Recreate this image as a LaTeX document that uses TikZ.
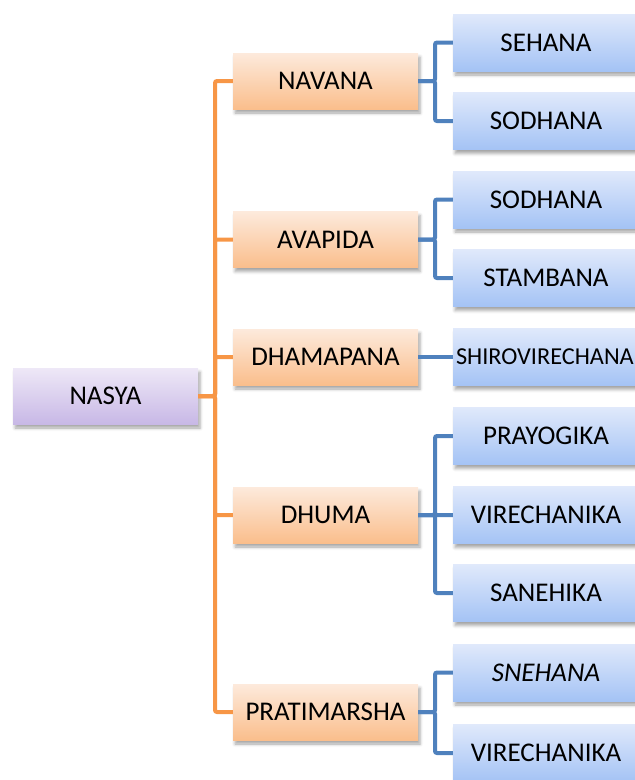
\documentclass[tikz,border=0pt]{standalone}
\usepackage{fontspec}
\setmainfont{Carlito}
\usetikzlibrary{shadows.blur}
\definecolor{otop}{RGB}{253,234,220}
\definecolor{obot}{RGB}{250,190,140}
\definecolor{btop}{RGB}{224,233,251}
\definecolor{bbot}{RGB}{164,195,245}
\definecolor{ptop}{RGB}{238,232,247}
\definecolor{pbot}{RGB}{200,184,230}
\definecolor{oline}{RGB}{247,150,70}
\definecolor{bline}{RGB}{79,129,189}
\tikzset{
  boxbase/.style={rectangle, inner sep=0pt, minimum height=56pt, text=black,
    font=\fontsize{27}{30}\selectfont,
    blur shadow={shadow xshift=2pt, shadow yshift=-4pt, shadow blur radius=3pt, shadow opacity=35}},
  rootbox/.style={boxbase, minimum width=185pt, shading=axis, top color=ptop, bottom color=pbot},
  midbox/.style={boxbase, minimum width=185pt, shading=axis, top color=otop, bottom color=obot},
  leafbox/.style={boxbase, minimum width=188pt, minimum height=57pt, shading=axis, top color=btop, bottom color=bbot},
  oconn/.style={draw=oline, line width=4pt, rounded corners=2pt},
  bconn/.style={draw=bline, line width=4pt, rounded corners=2pt},
}
\begin{document}
\begin{tikzpicture}[x=1pt,y=-1pt]
\useasboundingbox (0,0) rectangle (635,780);
% root
\node[rootbox] (nasya) at (105.5,396) {NASYA};
% middle column
\node[midbox] (navana) at (325.5,81) {NAVANA};
\node[midbox] (avapida) at (325.5,239.5) {AVAPIDA};
\node[midbox] (dhamapana) at (325.5,357) {DHAMAPANA};
\node[midbox] (dhuma) at (325.5,515) {DHUMA};
\node[midbox] (pratimarsha) at (325.5,712) {PRATIMARSHA};
% leaves
\node[leafbox] (sehana) at (547,42.5) {\hspace*{-2pt}SEHANA};
\node[leafbox] (sodhana1) at (547,121) {\hspace*{-2pt}SODHANA};
\node[leafbox] (sodhana2) at (547,199.5) {\hspace*{-2pt}SODHANA};
\node[leafbox] (stambana) at (547,278) {\hspace*{-2pt}STAMBANA};
\node[leafbox, font=\fontsize{24.3}{28}\selectfont, align=left] (shiro) at (547,357) {\makebox[188pt][l]{\hspace*{3pt}SHIROVIRECHANA}};
\node[leafbox] (prayogika) at (547,436) {\hspace*{-2pt}PRAYOGIKA};
\node[leafbox] (virech1) at (547,515) {\hspace*{-2pt}VIRECHANIKA};
\node[leafbox] (sanehika) at (547,593) {\hspace*{-2pt}SANEHIKA};
\node[leafbox] (snehana) at (547,672.5) {\hspace*{-2pt}\itshape SNEHANA};
\node[leafbox] (virech2) at (547,753) {\hspace*{-2pt}VIRECHANIKA};
% orange trunk
\coordinate (tk) at (215,396);
\foreach \c in {navana,avapida,dhamapana,dhuma,pratimarsha}
  \draw[oconn] (nasya.east) -- (tk) |- (\c.west);
% blue brackets
\coordinate (b1) at (435,81);
\coordinate (b2) at (435,239.5);
\coordinate (b4) at (435,515);
\coordinate (b5) at (435,712);
\foreach \c in {sehana,sodhana1} \draw[bconn] (navana.east) -- (b1) |- (\c.west);
\foreach \c in {sodhana2,stambana} \draw[bconn] (avapida.east) -- (b2) |- (\c.west);
\draw[bconn] (dhamapana.east) -- (shiro.west);
\foreach \c in {prayogika,virech1,sanehika} \draw[bconn] (dhuma.east) -- (b4) |- (\c.west);
\foreach \c in {snehana,virech2} \draw[bconn] (pratimarsha.east) -- (b5) |- (\c.west);
\end{tikzpicture}
\end{document}
